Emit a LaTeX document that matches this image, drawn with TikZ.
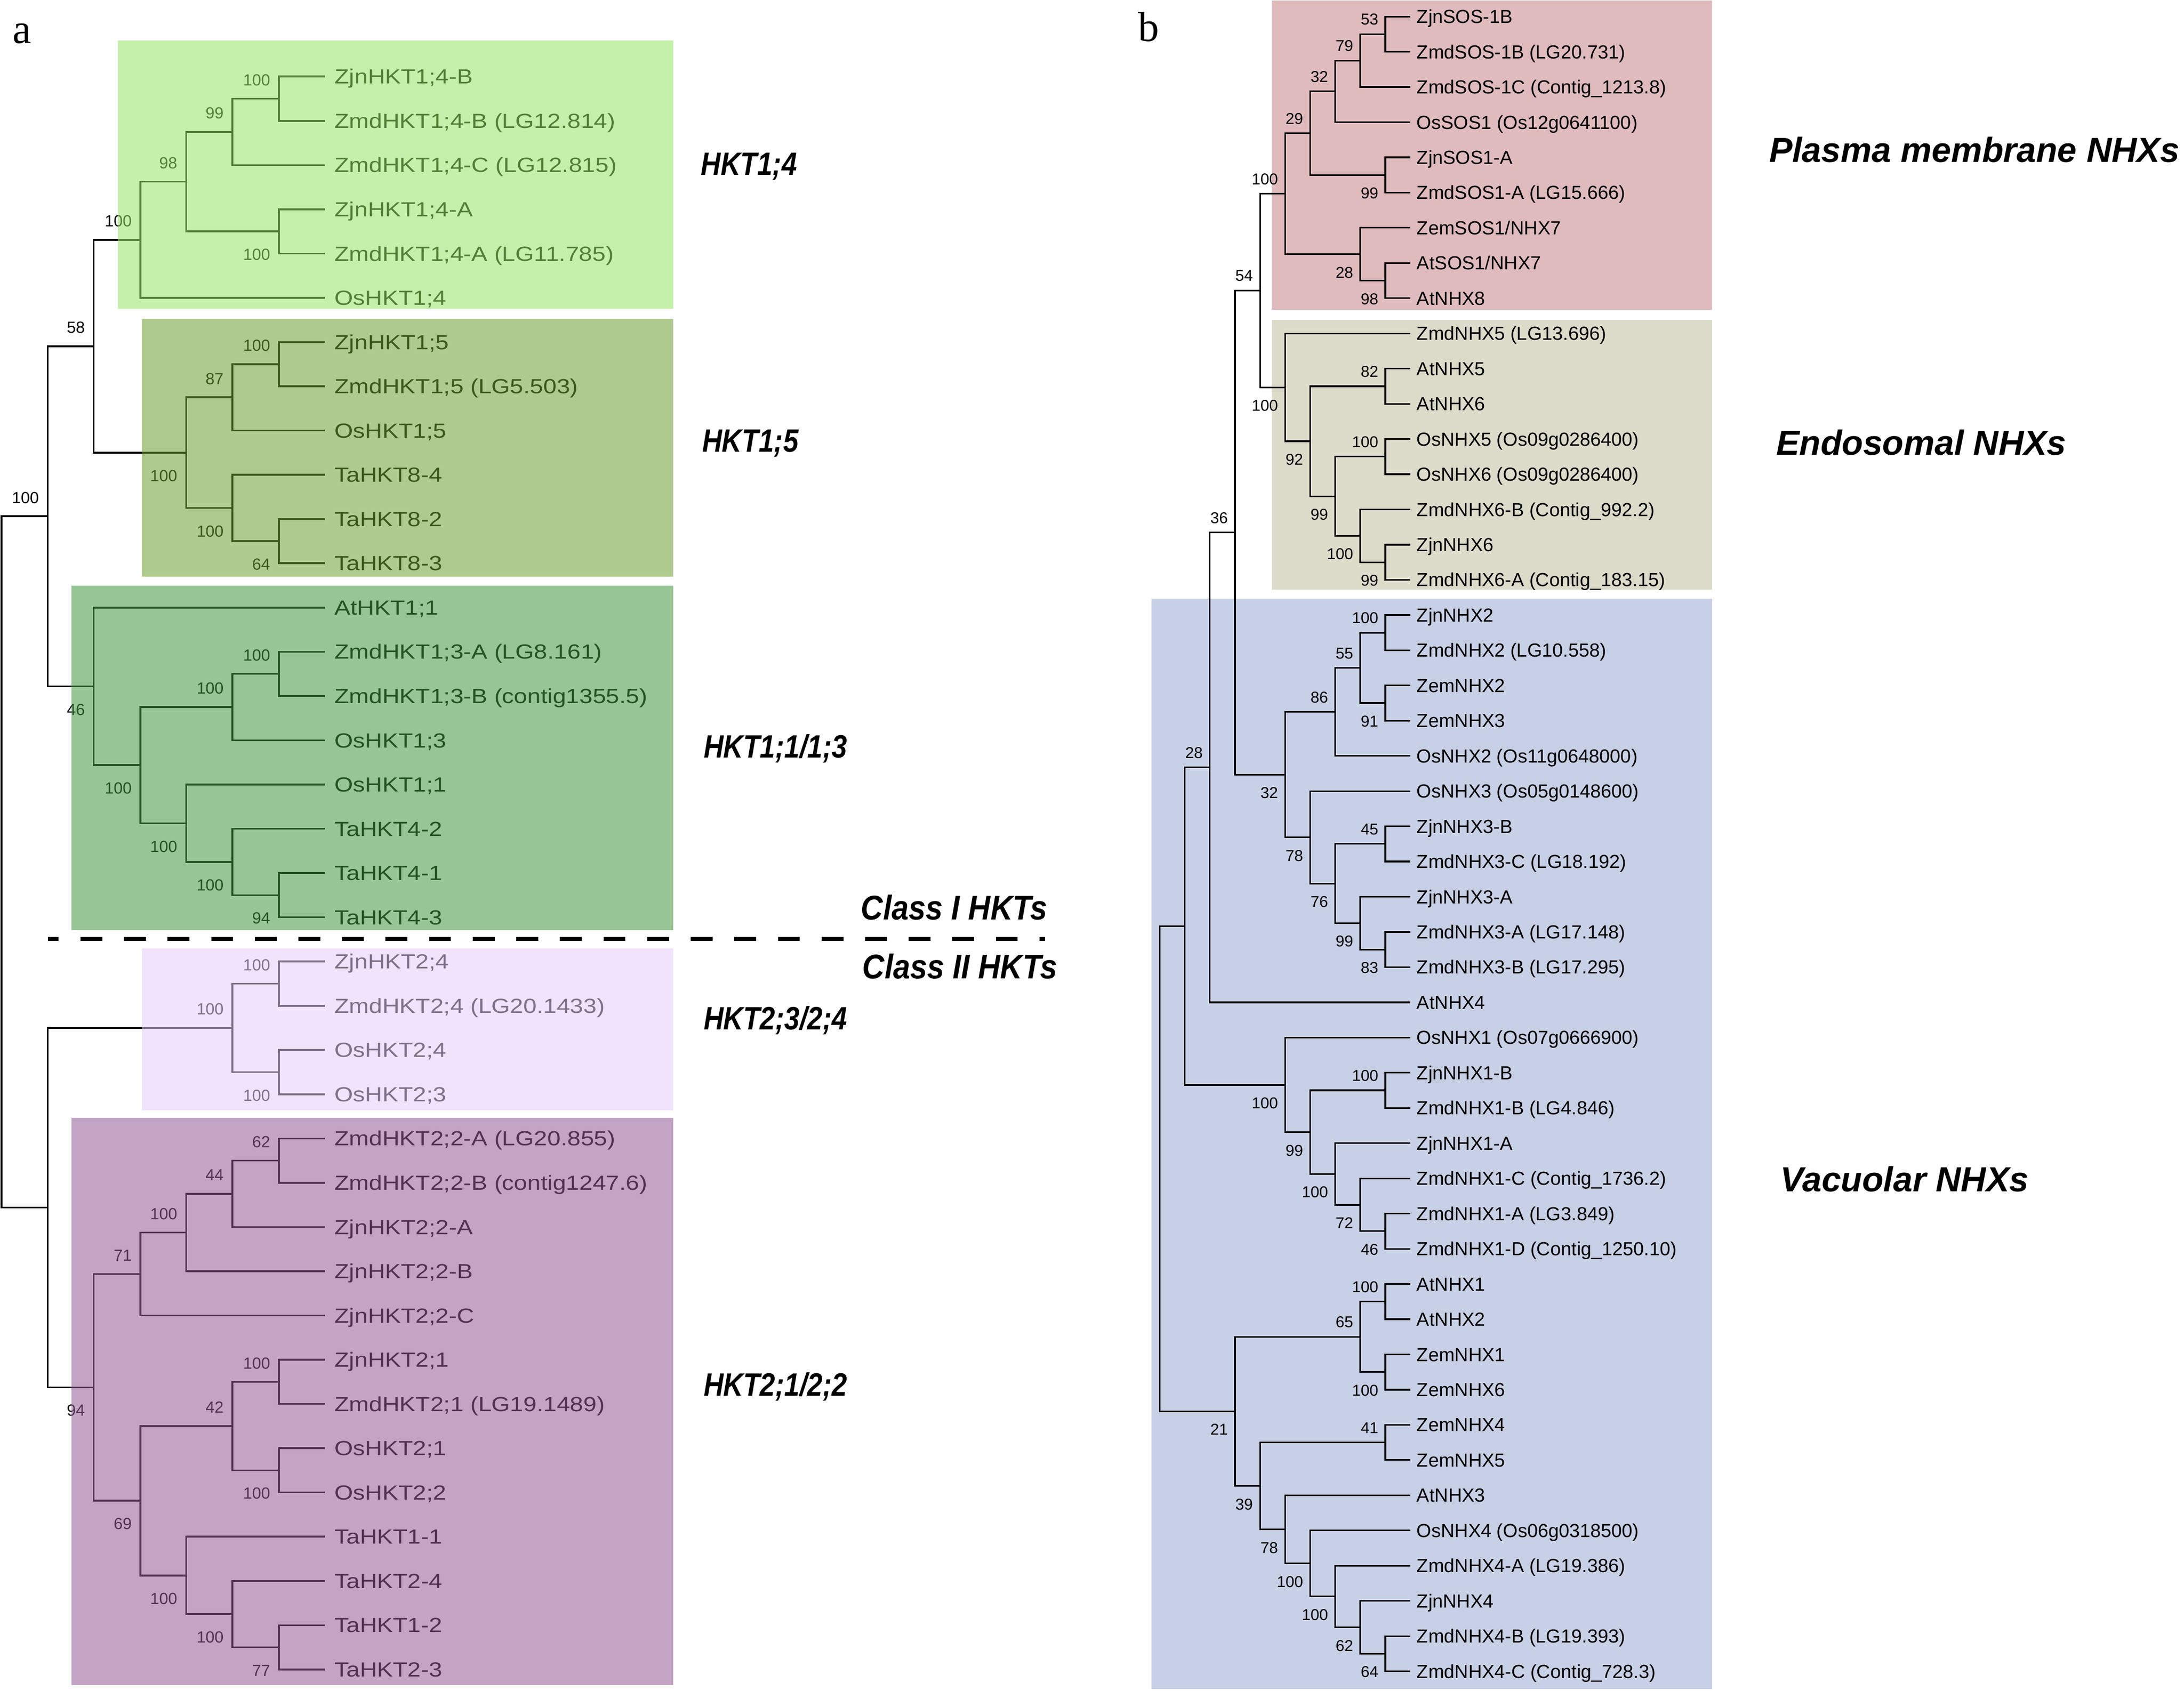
\documentclass[tikz,border=0pt]{standalone}
\usepackage{fontspec}
\usepackage{graphicx}
\setmainfont{Liberation Sans}
\newfontfamily\serifA{Liberation Serif}
\usetikzlibrary{calc}
\definecolor{ovA}{RGB}{151,228,100}
\definecolor{ovB}{RGB}{110,160,48}
\definecolor{ovC}{RGB}{66,150,64}
\definecolor{ovD}{RGB}{230,204,248}
\definecolor{ovE}{RGB}{146,90,150}
\definecolor{bxP}{RGB}{223,187,189}
\definecolor{bxN}{RGB}{220,220,203}
\definecolor{bxV}{RGB}{200,208,230}
\def\offLA{-13.5}\def\offLB{16.5}
\def\offRA{-10.7}\def\offRB{13}
\newcommand\mylsc[1]{\scalebox{1.17}[1]{#1}}
\newcommand\mycsc[1]{\scalebox{0.85}[1]{#1}}
\newcommand\myksc[1]{\scalebox{0.895}[1]{#1}}
% name, x, child1, child2, label, dy, xgap, style
\newcommand\mytn[8]{%
  \path let \p1=(#3), \p2=(#4) in (#2pt,{0.5*(\y1+\y2)}) coordinate (#1);
  \draw (#3) -| (#1) |- (#4);
  \node[#8] (#1-b) at ([shift={(-#7,#6)}]#1) {#5};
}
\newcommand\mytnn[4]{%
  \path let \p1=(#3), \p2=(#4) in (#2pt,{0.5*(\y1+\y2)}) coordinate (#1);
  \draw (#3) -| (#1) |- (#4);
}
\newcommand\LTn[6]{\mytn{#1}{#2}{#3}{#4}{#5}{\csname offL#6\endcsname}{5.7}{bsL}}
\newcommand\RTn[6]{\mytn{#1}{#2}{#3}{#4}{#5}{\csname offR#6\endcsname}{4.5}{bsR}}
\begin{document}
\begin{tikzpicture}[x=1pt,y=-1pt,
  leafL/.style={anchor=west,inner sep=0pt,text height=10.5pt,text depth=0pt,font=\fontsize{14.7pt}{15pt}\selectfont},
  leafR/.style={anchor=west,inner sep=0pt,text height=9.7pt,text depth=0pt,font=\fontsize{13.6pt}{14pt}\selectfont},
  bsL/.style={anchor=east,inner sep=0pt,text height=8.3pt,text depth=0pt,font=\fontsize{11.6pt}{12pt}\selectfont},
  bsR/.style={anchor=east,inner sep=0pt,text height=8.1pt,text depth=0pt,font=\fontsize{11.3pt}{12pt}\selectfont},
  cladeL/.style={anchor=base west,inner sep=0pt,font=\fontsize{23.2pt}{24pt}\selectfont\bfseries\itshape},
  cladeR/.style={anchor=base west,inner sep=0pt,font=\fontsize{25pt}{26pt}\selectfont\bfseries\itshape},
  panel/.style={anchor=base west,inner sep=0pt,font=\serifA\fontsize{30pt}{30pt}\selectfont},
  dashline/.style={line width=2.6pt,dash pattern=on 15.7pt off 15.6pt,dash phase=8.2pt}
]
\fill[white] (0,0) rectangle (1568,1214.2);
\useasboundingbox (0,0) rectangle (1568,1214.2);

% right panel boxes (behind)
\fill[bxP] (913.1,0.5) rectangle (1229.4,222.4);
\fill[bxN] (913.1,229.6) rectangle (1229.4,423.4);
\fill[bxV] (826.7,430) rectangle (1229.4,1212.7);

% ---------- left tree ----------
\foreach \t [count=\i from 0] in {ZjnHKT1;4-B, ZmdHKT1;4-B (LG12.814), ZmdHKT1;4-C (LG12.815), ZjnHKT1;4-A, ZmdHKT1;4-A (LG11.785), OsHKT1;4, ZjnHKT1;5, ZmdHKT1;5 (LG5.503), OsHKT1;5, TaHKT8-4, TaHKT8-2, TaHKT8-3, AtHKT1;1, ZmdHKT1;3-A (LG8.161), ZmdHKT1;3-B (contig1355.5), OsHKT1;3, OsHKT1;1, TaHKT4-2, TaHKT4-1, TaHKT4-3, ZjnHKT2;4, ZmdHKT2;4 (LG20.1433), OsHKT2;4, OsHKT2;3, ZmdHKT2;2-A (LG20.855), ZmdHKT2;2-B (contig1247.6), ZjnHKT2;2-A, ZjnHKT2;2-B, ZjnHKT2;2-C, ZjnHKT2;1, ZmdHKT2;1 (LG19.1489), OsHKT2;1, OsHKT2;2, TaHKT1-1, TaHKT2-4, TaHKT1-2, TaHKT2-3}{
  \coordinate (l\i) at (233.2,{55+31.77*\i});
  \node[leafL] (ll\i) at (240,{55+31.77*\i}) {\mylsc{\t}};
}
\begin{scope}[line width=1.3pt]
\LTn{a1}{200.3}{l0}{l1}{100}{A}
\LTn{a2}{166.9}{a1}{l2}{99}{A}
\LTn{a3}{200.3}{l3}{l4}{100}{B}
\LTn{a4}{133.6}{a2}{a3}{98}{A}
\LTn{a5}{100.9}{a4}{l5}{100}{A}
\LTn{b1}{200.3}{l6}{l7}{100}{A}
\LTn{b2}{166.9}{b1}{l8}{87}{A}
\LTn{b3}{200.3}{l10}{l11}{64}{B}
\LTn{b4}{166.9}{l9}{b3}{100}{B}
\LTn{b5}{133.6}{b2}{b4}{100}{B}
\LTn{c1}{67.3}{a5}{b5}{58}{A}
\LTn{d1}{200.3}{l13}{l14}{100}{A}
\LTn{d2}{166.9}{d1}{l15}{100}{A}
\LTn{d3}{200.3}{l18}{l19}{94}{B}
\LTn{d4}{166.9}{l17}{d3}{100}{B}
\LTn{d5}{133.6}{l16}{d4}{100}{B}
\LTn{d6}{100.9}{d2}{d5}{100}{B}
\LTn{d7}{67.3}{l12}{d6}{46}{B}
\LTn{e1}{34.3}{c1}{d7}{100}{A}
\LTn{f1}{200.3}{l20}{l21}{100}{A}
\LTn{f2}{200.3}{l22}{l23}{100}{B}
\LTn{f3}{166.9}{f1}{f2}{100}{A}
\LTn{h1}{200.3}{l24}{l25}{62}{A}
\LTn{h2}{166.9}{h1}{l26}{44}{A}
\LTn{h3}{133.6}{h2}{l27}{100}{A}
\LTn{h4}{100.9}{h3}{l28}{71}{A}
\LTn{h5}{200.3}{l29}{l30}{100}{A}
\LTn{h6}{200.3}{l31}{l32}{100}{B}
\LTn{h7}{166.9}{h5}{h6}{42}{A}
\LTn{h8}{200.3}{l35}{l36}{77}{B}
\LTn{h9}{166.9}{l34}{h8}{100}{B}
\LTn{h10}{133.6}{l33}{h9}{100}{B}
\LTn{h11}{100.9}{h7}{h10}{69}{B}
\LTn{h12}{67.3}{h4}{h11}{94}{B}
\mytnn{g}{34.3}{f3}{h12}
\mytnn{rootL}{1}{e1}{g}
\end{scope}

% ---------- right tree ----------
\foreach \t [count=\i from 0] in {ZjnSOS-1B, ZmdSOS-1B (LG20.731), ZmdSOS-1C (Contig\_1213.8), OsSOS1 (Os12g0641100), ZjnSOS1-A, ZmdSOS1-A (LG15.666), ZemSOS1/NHX7, AtSOS1/NHX7, AtNHX8, ZmdNHX5 (LG13.696), AtNHX5, AtNHX6, OsNHX5 (Os09g0286400), OsNHX6 (Os09g0286400), ZmdNHX6-B (Contig\_992.2), ZjnNHX6, ZmdNHX6-A (Contig\_183.15), ZjnNHX2, ZmdNHX2 (LG10.558), ZemNHX2, ZemNHX3, OsNHX2 (Os11g0648000), OsNHX3 (Os05g0148600), ZjnNHX3-B, ZmdNHX3-C (LG18.192), ZjnNHX3-A, ZmdNHX3-A (LG17.148), ZmdNHX3-B (LG17.295), AtNHX4, OsNHX1 (Os07g0666900), ZjnNHX1-B, ZmdNHX1-B (LG4.846), ZjnNHX1-A, ZmdNHX1-C (Contig\_1736.2), ZmdNHX1-A (LG3.849), ZmdNHX1-D (Contig\_1250.10), AtNHX1, AtNHX2, ZemNHX1, ZemNHX6, ZemNHX4, ZemNHX5, AtNHX3, OsNHX4 (Os06g0318500), ZmdNHX4-A (LG19.386), ZjnNHX4, ZmdNHX4-B (LG19.393), ZmdNHX4-C (Contig\_728.3)}{
  \coordinate (r\i) at (1012.5,{11.9+25.28*\i});
  \node[leafR] (rl\i) at (1017,{11.9+25.28*\i}) {\t};
}
\begin{scope}[line width=1.15pt]
\RTn{p1}{994.6}{r0}{r1}{53}{A}
\RTn{p2}{976.6}{p1}{r2}{79}{A}
\RTn{p3}{958.6}{p2}{r3}{32}{A}
\RTn{p4}{994.6}{r4}{r5}{99}{B}
\RTn{p5}{940.6}{p3}{p4}{29}{A}
\RTn{p6}{994.6}{r7}{r8}{98}{B}
\RTn{p7}{976.6}{r6}{p6}{28}{B}
\RTn{p8}{922.6}{p5}{p7}{100}{A}
\RTn{q1}{994.6}{r10}{r11}{82}{A}
\RTn{q2}{994.6}{r12}{r13}{100}{A}
\RTn{q3}{994.6}{r15}{r16}{99}{B}
\RTn{q4}{976.6}{r14}{q3}{100}{B}
\RTn{q5}{958.6}{q2}{q4}{99}{B}
\RTn{q6}{940.6}{q1}{q5}{92}{B}
\RTn{q7}{922.6}{r9}{q6}{100}{B}
\RTn{s54}{904.6}{p8}{q7}{54}{A}
\RTn{v1}{994.6}{r17}{r18}{100}{A}
\RTn{v2}{994.6}{r19}{r20}{91}{B}
\RTn{v3}{976.6}{v1}{v2}{55}{A}
\RTn{v4}{958.6}{v3}{r21}{86}{A}
\RTn{v5}{994.6}{r23}{r24}{45}{A}
\RTn{v6}{994.6}{r26}{r27}{83}{B}
\RTn{v7}{976.6}{r25}{v6}{99}{B}
\RTn{v8}{958.6}{v5}{v7}{76}{B}
\RTn{v9}{940.6}{r22}{v8}{78}{B}
\RTn{v10}{922.6}{v4}{v9}{32}{B}
\RTn{s36}{886.6}{s54}{v10}{36}{A}
\RTn{s28}{868.6}{s36}{r28}{28}{A}
\RTn{w1}{994.6}{r30}{r31}{100}{A}
\RTn{w2}{994.6}{r34}{r35}{46}{B}
\RTn{w3}{976.6}{r33}{w2}{72}{B}
\RTn{w4}{958.6}{r32}{w3}{100}{B}
\RTn{w5}{940.6}{w1}{w4}{99}{B}
\RTn{w6}{922.6}{r29}{w5}{100}{B}
\mytnn{t1}{850.6}{s28}{w6}
\RTn{x1}{994.6}{r36}{r37}{100}{A}
\RTn{x2}{994.6}{r38}{r39}{100}{B}
\RTn{x3}{976.6}{x1}{x2}{65}{A}
\RTn{y1}{994.6}{r40}{r41}{41}{A}
\RTn{y2}{994.6}{r46}{r47}{64}{B}
\RTn{y3}{976.6}{r45}{y2}{62}{B}
\RTn{y4}{958.6}{r44}{y3}{100}{B}
\RTn{y5}{940.6}{r43}{y4}{100}{B}
\RTn{y6}{922.6}{r42}{y5}{78}{B}
\RTn{y7}{904.6}{y1}{y6}{39}{B}
\RTn{u21}{886.6}{x3}{y7}{21}{B}
\mytnn{rootR}{832.6}{t1}{u21}
\end{scope}

% left boxes: translucent overlay
\begin{scope}[fill opacity=0.55]
\fill[ovA] (84.6,29) rectangle (483.2,221.6);
\fill[ovB] (101.9,229) rectangle (483.2,413.9);
\fill[ovC] (51.3,420.5) rectangle (483.2,667.9);
\fill[ovD] (101.9,681) rectangle (483.2,797.4);
\fill[ovE] (51.3,802.7) rectangle (483.2,1209.8);
\end{scope}

% class separator
\coordinate (dA) at (34.6,674.2);
\coordinate (dB) at (750.4,674.2);
\draw[dashline] (dA) -- (dB);

% clade labels
\node[cladeL] (k1) at (503,125.8) {\mycsc{HKT1;4}};
\node[cladeL] (k2) at (504,324.4) {\mycsc{HKT1;5}};
\node[cladeL] (k3) at (505,544.2) {\mycsc{HKT1;1/1;3}};
\node[cladeL] (k4) at (505,739.4) {\mycsc{HKT2;3/2;4}};
\node[cladeL] (k5) at (505,1002.3) {\mycsc{HKT2;1/2;2}};
\node[cladeL,font=\fontsize{24.6pt}{25pt}\selectfont\bfseries\itshape] (c1l) at (618,660.4) {\myksc{Class I HKTs}};
\node[cladeL,font=\fontsize{24.6pt}{25pt}\selectfont\bfseries\itshape] (c2l) at (619,702.7) {\myksc{Class II HKTs}};
\node[cladeR] (m1) at (1270,116.6) {Plasma membrane NHXs};
\node[cladeR] (m2) at (1275,326.8) {Endosomal NHXs};
\node[cladeR] (m3) at (1278,855.7) {Vacuolar NHXs};

% panel letters
\node[panel] (pa) at (9,31) {a};
\node[panel] (pb) at (817,29.7) {b};
\end{tikzpicture}
\end{document}
